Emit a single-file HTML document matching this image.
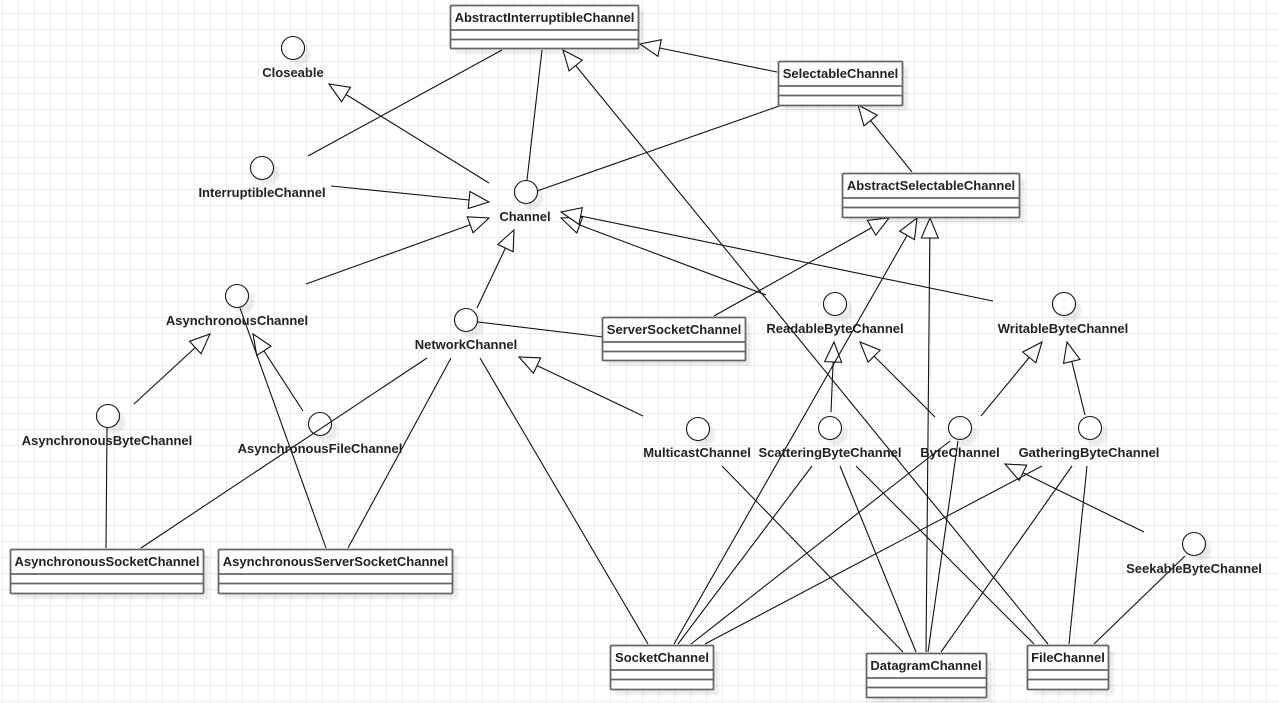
<!DOCTYPE html>
<html><head><meta charset="utf-8"><style>
html,body{margin:0;padding:0;background:#fff;width:1279px;height:703px;overflow:hidden}
svg{display:block}
text{font-family:"Liberation Sans",Arial,sans-serif;font-weight:bold;font-size:13px;fill:#222;text-anchor:middle}
.e line{stroke:#111;stroke-width:1.1}
.a line{marker-end:url(#tri)}
.sh{opacity:.07;filter:url(#bl)}
.b rect.m{fill:#fff;stroke:#666;stroke-width:1.8}
.b line{stroke:#666;stroke-width:1.8}
circle.c{fill:#fff;stroke:#111;stroke-width:1.1}
</style></head><body>
<svg width="1279" height="703" viewBox="0 0 1279 703" xmlns="http://www.w3.org/2000/svg">
<defs>
<pattern id="g" x="2" y="13" width="16" height="16" patternUnits="userSpaceOnUse">
<path d="M0.5 0V16M0 0.5H16" fill="none" stroke="#ececec" stroke-width="1"/>
</pattern>
<filter id="bl" x="-20%" y="-20%" width="140%" height="140%"><feGaussianBlur stdDeviation="1"/></filter>
<marker id="tri" markerUnits="userSpaceOnUse" markerWidth="24" markerHeight="20" refX="21" refY="9.5" orient="auto">
<path d="M1 1L21 9.5L1 18Z" fill="#fff" stroke="#111" stroke-width="1.1"/>
</marker>
</defs>
<rect width="1279" height="703" fill="url(#g)"/>

<g class="sh" fill="#000">
<circle cx="299" cy="54" r="11.5"/><circle cx="268" cy="174" r="11.5"/><circle cx="532" cy="198" r="11.5"/>
<circle cx="243" cy="302" r="11.5"/><circle cx="472" cy="326" r="11.5"/><circle cx="114" cy="422" r="11.5"/>
<circle cx="326" cy="430" r="11.5"/><circle cx="704" cy="435" r="11.5"/><circle cx="836" cy="434" r="11.5"/>
<circle cx="966" cy="434" r="11.5"/><circle cx="1096" cy="434" r="11.5"/><circle cx="841" cy="310" r="11.5"/>
<circle cx="1070" cy="310" r="11.5"/><circle cx="1200" cy="550" r="11.5"/>
<rect x="456" y="11" width="188" height="43"/>
<rect x="784" y="67" width="124" height="44"/>
<rect x="848" y="179" width="177" height="44"/>
<rect x="608" y="323" width="143" height="43"/>
<rect x="16" y="555" width="193" height="44"/>
<rect x="224" y="555" width="234" height="44"/>
<rect x="616" y="651" width="103" height="44"/>
<rect x="872" y="659" width="120" height="44"/>
<rect x="1033" y="651" width="81" height="44"/>
</g>

<g>
<circle class="c" cx="293" cy="48" r="11.5"/>
<circle class="c" cx="262" cy="168" r="11.5"/>
<circle class="c" cx="526" cy="192" r="11.5"/>
<circle class="c" cx="237" cy="296" r="11.5"/>
<circle class="c" cx="466" cy="320" r="11.5"/>
<circle class="c" cx="108" cy="416" r="11.5"/>
<circle class="c" cx="320" cy="424" r="11.5"/>
<circle class="c" cx="698" cy="429" r="11.5"/>
<circle class="c" cx="830" cy="428" r="11.5"/>
<circle class="c" cx="960" cy="428" r="11.5"/>
<circle class="c" cx="1090" cy="428" r="11.5"/>
<circle class="c" cx="835" cy="304" r="11.5"/>
<circle class="c" cx="1064" cy="304" r="11.5"/>
<circle class="c" cx="1194" cy="544" r="11.5"/>
</g>

<g class="e a">
<line x1="489" y1="183" x2="329" y2="84"/>
<line x1="331" y1="186" x2="489" y2="202"/>
<line x1="306" y1="284" x2="489" y2="218"/>
<line x1="477" y1="308" x2="514" y2="230"/>
<line x1="766" y1="295" x2="561" y2="218"/>
<line x1="993" y1="301" x2="561" y2="212"/>
<line x1="831" y1="412" x2="834" y2="342"/>
<line x1="935" y1="417" x2="860" y2="342"/>
<line x1="981" y1="416" x2="1042" y2="342"/>
<line x1="1085" y1="415" x2="1067" y2="342"/>
<line x1="1144" y1="532" x2="1005" y2="464"/>
<line x1="643" y1="416" x2="519" y2="357"/>
<line x1="134" y1="404" x2="210" y2="334"/>
<line x1="303" y1="411" x2="253" y2="334"/>
<line x1="777" y1="72" x2="640" y2="44"/>
<line x1="912" y1="172" x2="858" y2="105"/>
<line x1="714" y1="316" x2="889" y2="218"/>
<line x1="674" y1="644" x2="917" y2="218"/>
<line x1="926" y1="652" x2="930" y2="218"/>
<line x1="1048" y1="644" x2="563" y2="50"/>
</g>
<g class="e">
<line x1="502" y1="50" x2="308" y2="156"/>
<line x1="542" y1="50" x2="527" y2="180"/>
<line x1="782" y1="105" x2="537" y2="191"/>
<line x1="478" y1="322" x2="603" y2="337"/>
<line x1="427" y1="358" x2="141" y2="548"/>
<line x1="451" y1="358" x2="348" y2="548"/>
<line x1="480" y1="358" x2="648" y2="644"/>
<line x1="240" y1="308" x2="326" y2="548"/>
<line x1="107" y1="428" x2="106" y2="548"/>
<line x1="722" y1="466" x2="903" y2="652"/>
<line x1="812" y1="466" x2="678" y2="644"/>
<line x1="840" y1="466" x2="916" y2="652"/>
<line x1="856" y1="466" x2="1034" y2="644"/>
<line x1="950" y1="441" x2="691" y2="644"/>
<line x1="958" y1="441" x2="928" y2="652"/>
<line x1="1042" y1="466" x2="705" y2="644"/>
<line x1="1072" y1="466" x2="941" y2="652"/>
<line x1="1087" y1="466" x2="1069" y2="644"/>
<line x1="1185" y1="556" x2="1094" y2="644"/>
</g>

<text x="293" y="77">Closeable</text>
<text x="262" y="197">InterruptibleChannel</text>
<text x="525" y="221">Channel</text>
<text x="237" y="325">AsynchronousChannel</text>
<text x="466" y="349">NetworkChannel</text>
<text x="107" y="445">AsynchronousByteChannel</text>
<text x="320" y="453">AsynchronousFileChannel</text>
<text x="697" y="457">MulticastChannel</text>
<text x="830" y="457">ScatteringByteChannel</text>
<text x="960" y="457">ByteChannel</text>
<text x="1089" y="457">GatheringByteChannel</text>
<text x="835" y="333">ReadableByteChannel</text>
<text x="1063" y="333">WritableByteChannel</text>
<text x="1194" y="573">SeekableByteChannel</text>

<g class="b">
<rect class="m" rx="1" x="450.5" y="5.5" width="188" height="43"/>
<line x1="450" y1="30" x2="638" y2="30"/><line x1="450" y1="39.5" x2="638" y2="39.5"/>
<rect class="m" rx="1" x="778.5" y="61.5" width="124" height="44"/>
<line x1="778" y1="86" x2="902" y2="86"/><line x1="778" y1="95.5" x2="902" y2="95.5"/>
<rect class="m" rx="1" x="842.5" y="173.5" width="177" height="44"/>
<line x1="842" y1="198" x2="1019" y2="198"/><line x1="842" y1="207.5" x2="1019" y2="207.5"/>
<rect class="m" rx="1" x="602.5" y="317.5" width="143" height="43"/>
<line x1="602" y1="342" x2="745" y2="342"/><line x1="602" y1="351.5" x2="745" y2="351.5"/>
<rect class="m" rx="1" x="10.5" y="549.5" width="193" height="44"/>
<line x1="10" y1="574" x2="203" y2="574"/><line x1="10" y1="583.5" x2="203" y2="583.5"/>
<rect class="m" rx="1" x="218.5" y="549.5" width="234" height="44"/>
<line x1="218" y1="574" x2="452" y2="574"/><line x1="218" y1="583.5" x2="452" y2="583.5"/>
<rect class="m" rx="1" x="610.5" y="645.5" width="103" height="44"/>
<line x1="610" y1="670" x2="713" y2="670"/><line x1="610" y1="679.5" x2="713" y2="679.5"/>
<rect class="m" rx="1" x="866.5" y="653.5" width="120" height="44"/>
<line x1="866" y1="678" x2="986" y2="678"/><line x1="866" y1="687.5" x2="986" y2="687.5"/>
<rect class="m" rx="1" x="1027.5" y="645.5" width="81" height="44"/>
<line x1="1027" y1="670" x2="1108" y2="670"/><line x1="1027" y1="679.5" x2="1108" y2="679.5"/>
</g>
<text x="544.5" y="22">AbstractInterruptibleChannel</text>
<text x="840.5" y="78">SelectableChannel</text>
<text x="931" y="190">AbstractSelectableChannel</text>
<text x="674" y="334">ServerSocketChannel</text>
<text x="107" y="566">AsynchronousSocketChannel</text>
<text x="335.5" y="566">AsynchronousServerSocketChannel</text>
<text x="662" y="662">SocketChannel</text>
<text x="926" y="670">DatagramChannel</text>
<text x="1068" y="662">FileChannel</text>
</svg>
</body></html>
